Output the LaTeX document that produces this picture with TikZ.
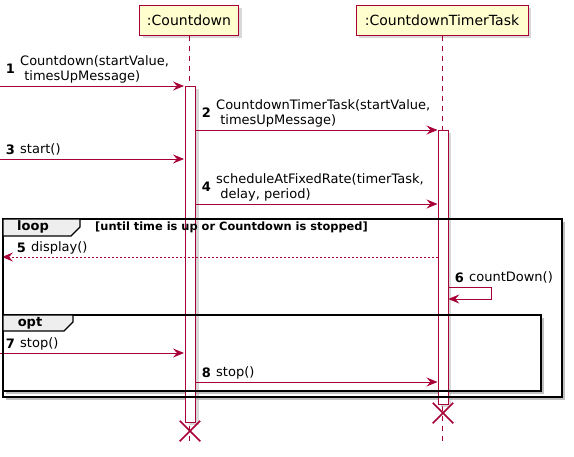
\documentclass[tikz,border=0pt]{standalone}
\usepackage{fontspec}
\setmainfont{DejaVu Sans}
\usetikzlibrary{arrows.meta,shadows,shapes.misc}
\definecolor{umlred}{HTML}{A80036}
\definecolor{umlyellow}{HTML}{FEFECE}
\definecolor{tabgray}{HTML}{EEEEEE}

\begin{document}
\begin{tikzpicture}[x=1pt,y=-1pt,>={Stealth[length=11pt,width=9pt,inset=4pt]}]
  \tikzstyle{umlshadow}=[drop shadow={shadow xshift=3pt,shadow yshift=-3pt,fill=black!30}]
  \tikzstyle{participant}=[rectangle,draw=umlred,fill=umlyellow,line width=1pt,minimum height=30pt,inner sep=0pt,font=\fontsize{14}{16}\selectfont,umlshadow]
  \tikzstyle{lifeline}=[draw=umlred,line width=0.8pt,dash pattern=on 5pt off 5pt]
  \tikzstyle{activation}=[rectangle,draw=umlred,fill=white,line width=0.8pt,minimum width=10pt,inner sep=0pt,umlshadow]
  \tikzstyle{msg}=[->,draw=umlred,line width=0.8pt]
  \tikzstyle{reply}=[msg,dash pattern=on 2pt off 2pt]
  \tikzstyle{msgtext}=[font=\fontsize{13}{15}\selectfont,inner sep=0pt,align=left,anchor=south west]
  \tikzstyle{num}=[font=\fontsize{13}{15}\selectfont\bfseries,inner sep=0pt,anchor=base east]
  \tikzstyle{frame}=[draw=black,line width=1.5pt]
  \tikzstyle{tab}=[draw=black,line width=1.2pt,fill=tabgray]
  \tikzstyle{framelabel}=[font=\fontsize{13}{15}\selectfont\bfseries,inner sep=0pt]
  \tikzstyle{guard}=[font=\fontsize{11.4}{13}\selectfont\bfseries,inner sep=0pt,anchor=west]
  \tikzstyle{destroy}=[cross out,draw=umlred,line width=1.5pt,minimum size=19pt,inner sep=0pt]

  \useasboundingbox (0,0) rectangle (574,456);

  % Shadows of the loop and opt frames
  \fill[black!25] (562,222) rectangle (565,400);
  \fill[black!25] (6,397) rectangle (565,400);
  \fill[black!25] (541,318) rectangle (544,394);
  \fill[black!25] (6,391) rectangle (544,394);

  % Draw the participants and their lifelines
  \node[participant, minimum width=99pt] (P-cd) at (189,20) {:Countdown};
  \node[participant, minimum width=172pt] (P-tt) at (442,20) {:CountdownTimerTask};
  \coordinate (E-cd) at (189,445);
  \coordinate (E-tt) at (442,445);
  \draw[lifeline] (P-cd) -- (E-cd);
  \draw[lifeline] (P-tt) -- (E-tt);

  % Activation bars
  \node[activation, minimum height=336pt] (A-cd) at (190.5,254) {};
  \node[activation, minimum height=274pt] (A-tt) at (443.3,267) {};

  % Message end points
  \foreach \name / \y in {1/86,3/159,7/353} {
    \coordinate (S-\name) at (0,\y);
    \coordinate (T-\name) at (184,\y);
  }
  \foreach \name / \y in {2/130,4/204,8/382} {
    \coordinate (S-\name) at (195.5,\y);
    \coordinate (T-\name) at (437.5,\y);
  }
  \coordinate (S-5) at (437.5,257);
  \coordinate (T-5) at (2,257);
  \coordinate (S-6) at (448.3,287);
  \coordinate (T-6) at (448.3,299);

  % Connect them
  \foreach \name in {1,2,3,4,7,8}
  \draw[msg] (S-\name) -- (T-\name);
  \draw[reply] (S-5) -- (T-5);
  \draw[msg] (S-6) -- ++(43,0) |- (T-6);

  % Loop and opt frames
  \draw[frame] (3,219) rectangle (562,397);
  \draw[tab] (3,219) -- (80,219) -- (80,227) -- (71,236) -- (3,236) -- cycle;
  \node[framelabel] (loop) at (33,227) {loop};
  \node[guard] (until) at (95,227) {[until time is up or Countdown is stopped]};
  \draw[frame] (3,315) rectangle (541,391);
  \draw[tab] (3,315) -- (73,315) -- (73,322) -- (64,331) -- (3,331) -- cycle;
  \node[framelabel] (opt) at (30,323) {opt};

  % Message labels
  \foreach \name / \x / \y in {1/15/73,2/211/117,3/15/154,4/211/191,5/26/252,6/464/282,7/15/348,8/211/377}
  \node[num] (n-\name) at (\x,\y) {\name};
  \node[msgtext] (m-1) at (20,85.5) {Countdown(startValue,\\\ timesUpMessage)\strut};
  \node[msgtext] (m-2) at (216,129.5) {CountdownTimerTask(startValue,\\\ timesUpMessage)\strut};
  \node[msgtext] (m-3) at (20,158.5) {start()\strut};
  \node[msgtext] (m-4) at (216,203.5) {scheduleAtFixedRate(timerTask,\\\ delay, period)\strut};
  \node[msgtext] (m-5) at (31,256.5) {display()\strut};
  \node[msgtext] (m-6) at (469,286.5) {countDown()\strut};
  \node[msgtext] (m-7) at (20,352.5) {stop()\strut};
  \node[msgtext] (m-8) at (216,381.5) {stop()\strut};

  % Destroyed participants
  \node[destroy] (X-cd) at (190,431) {};
  \node[destroy] (X-tt) at (443,413) {};
\end{tikzpicture}
\end{document}
